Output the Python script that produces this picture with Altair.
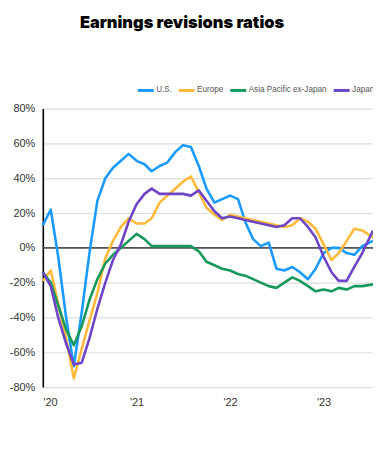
import altair as alt
import pandas as pd

dates = [f"{y}-{m:02d}-01" for y in range(2020, 2024) for m in range(1, 13)][:42] + ["2023-07-13"]

us = [13, 22, -5, -40, -68, -37, -3, 27, 40, 46, 50, 54,
      50, 48, 44, 47, 49, 55, 59, 58, 47, 34, 26, 28,
      30, 28, 15, 5, 1, 3, -12, -13, -11, -14, -18, -12,
      -3, 0, 0, -3, -4, 1, 4]
europe = [-19, -13, -32, -52, -75, -58, -42, -26, -6, 4, 12, 17,
          14, 14, 17, 26, 30, 34, 38, 41, 32, 23, 19, 16,
          19, 18, 17, 16, 15, 14, 13, 12, 13, 17, 15, 11,
          2, -7, -3, 4, 11, 10, 6]
apxj = [-14, -20, -33, -47, -56, -45, -30, -18, -9, -4, 0, 4,
        8, 5, 1, 1, 1, 1, 1, 1, -2, -8, -10, -12,
        -13, -15, -16, -18, -20, -22, -23, -20, -17, -19, -22, -25,
        -24, -25, -23, -24, -22, -22, -21]
japan = [-14, -22, -40, -55, -67, -66, -52, -35, -20, -7, 2, 15,
         25, 31, 34, 31, 31, 31, 31, 30, 33, 27, 21, 17,
         18, 17, 16, 15, 14, 13, 12, 13, 17, 17, 12, 6,
         -5, -14, -19, -19, -11, -3, 10]

series_names = ["U.S.", "Europe", "Asia Pacific ex-Japan", "Japan"]
series_values = [us, europe, apxj, japan]
colors = ["#1A9BFC", "#FFBA3B", "#17995B", "#6E45C4"]
y_ticks = [-80, -60, -40, -20, 0, 20, 40, 60, 80]

rows = []
for order, (name, vals) in enumerate(zip(series_names, series_values)):
    for d, v in zip(dates, vals):
        rows.append({"date": d, "value": v, "series": name, "order": order})
df = pd.DataFrame(rows)

x_scale = alt.Scale(domain=["2020-01-01", "2023-07-13"])
y_scale = alt.Scale(domain=[-80, 80])

y_axis = alt.Axis(values=y_ticks, labelExpr="datum.value + '%'",
                  grid=True, gridColor="#dedede", gridWidth=1.2,
                  domain=True, domainColor="#000", domainWidth=1.6,
                  ticks=False, labelFontSize=11, labelColor="#333",
                  labelPadding=8, labelFont="Liberation Sans", labelOverlap=False)

lines = alt.Chart(df).mark_line(strokeWidth=2.6, strokeJoin="round").encode(
    x=alt.X("date:T", scale=x_scale, title=None,
            axis=alt.Axis(format="'%y", tickCount="year", grid=False, domain=False,
                          ticks=False, labelFontSize=11, labelColor="#333",
                          labelPadding=10, labelFont="Liberation Sans")),
    y=alt.Y("value:Q", scale=y_scale, title=None, axis=y_axis),
    color=alt.Color("series:N", scale=alt.Scale(domain=series_names, range=colors),
                    legend=alt.Legend(title=None, orient="none", direction="horizontal",
                                      legendX=94, legendY=-28, symbolType="stroke",
                                      symbolSize=256, symbolStrokeWidth=3,
                                      labelFontSize=8.2, labelColor="#555",
                                      labelFont="Liberation Sans", columnPadding=0,
                                      labelOffset=1, padding=0)),
    detail="series:N",
    order=alt.Order("order:Q"),
)

zero = alt.Chart(pd.DataFrame({"y": [0]})).mark_rule(color="#555", strokeWidth=1.6).encode(
    y=alt.Y("y:Q", scale=y_scale, title=None, axis=y_axis)
)

chart = alt.layer(zero, lines).properties(
    width=332, height=280,
    autosize=alt.AutoSizeParams(type="none"),
    padding={"left": 35, "top": 100, "right": 0, "bottom": 40},
    title=alt.TitleParams("Earnings revisions ratios", font="Inter", fontSize=16.5,
                          fontWeight=900, color="#000", anchor="middle", dx=-26,
                          offset=50),
).configure_view(stroke=None)

chart.save("out.html", embed_options={"renderer": "svg", "actions": False})
